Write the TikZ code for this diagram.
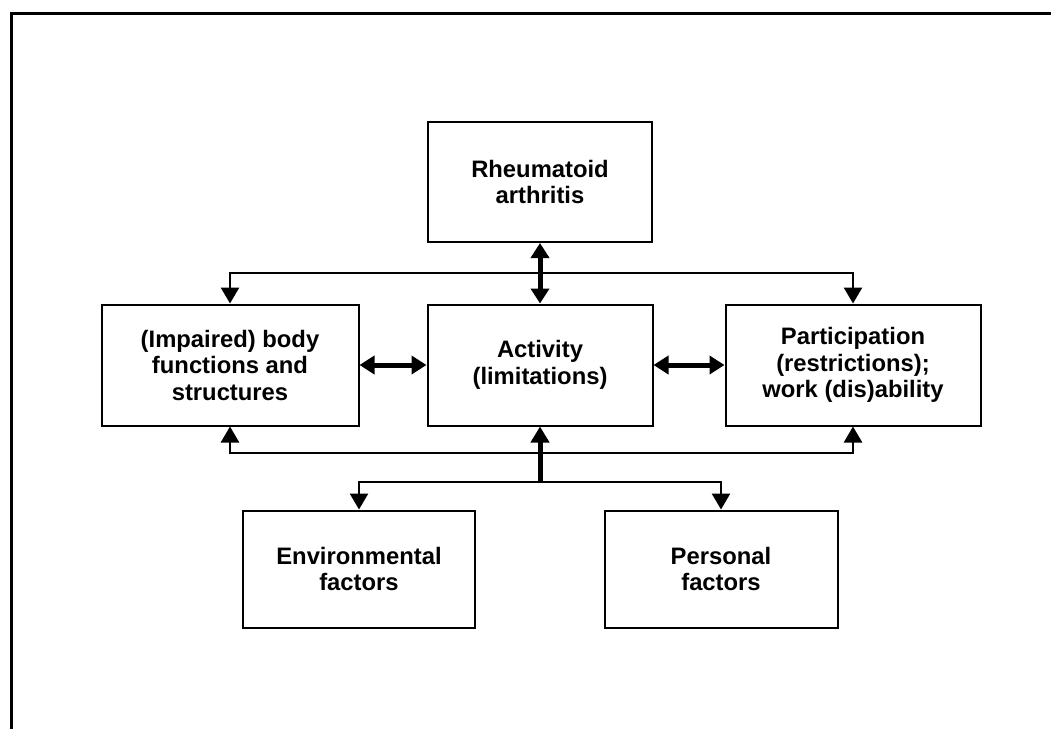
\documentclass[tikz,border=0pt]{standalone}
\usepackage{fontspec}
\setmainfont{Liberation Sans}
\usetikzlibrary{arrows.meta}

\tikzstyle{box}=[draw,line width=2pt,align=center,inner sep=0pt,font=\fontsize{23.8}{26.5}\selectfont\bfseries]
\tikzstyle{bus}=[draw,line width=2.6pt,-{Triangle[width=18pt,length=16pt]}]
\tikzstyle{stem}=[draw,line width=5pt,-{Triangle[width=18pt,length=16pt]}]
\tikzstyle{link}=[draw,line width=5pt,{Triangle[width=18pt,length=15pt]}-{Triangle[width=18pt,length=15pt]}]
\tikzstyle{frame}=[draw,line width=3pt]

\begin{document}
\begin{tikzpicture}[x=1pt,y=-1pt]
  \useasboundingbox (0,0) rectangle (1051,729);
  % outer frame (only top and left edges visible)
  \draw[frame] (11,729) -- (11,13) -- (1051,13);
  % the boxes
  \foreach \pos/\name/\w/\h/\la in {{(540,182)/ra/224/120/{Rheumatoid\\arthritis}},
      {(230,365)/body/257/121/{(Impaired) body\\functions and\\structures}},
      {(540,365)/act/225/121/{Activity\\(limitations)}},
      {(853,365)/part/255/121/{Participation\\(restrictions);\\work (dis)ability}},
      {(359,569)/env/232/117/{Environmental\\factors}},
      {(721,569)/pers/233/117/{Personal\\factors}}}
    \node[box,minimum width=\w pt,minimum height=\h pt] (\name) at \pos {\la};
  % junction points of the connectors
  \coordinate (topbus) at (540,273);
  \coordinate (botbus) at (540,453);
  \coordinate (forkbus) at (540,482);
  % connectors
  \path[link] (ra.south) -- (act.north);
  \path[link] (body.east) -- (act.west);
  \path[link] (act.east) -- (part.west);
  \foreach \dest in {body,part}
    \path[bus] (topbus) -| (\dest.north);
  \foreach \dest in {body,part}
    \path[bus] (botbus) -| (\dest.south);
  \path[stem] (forkbus) -- (act.south);
  \foreach \dest in {env,pers}
    \path[bus] (forkbus) -| (\dest.north);
\end{tikzpicture}
\end{document}
